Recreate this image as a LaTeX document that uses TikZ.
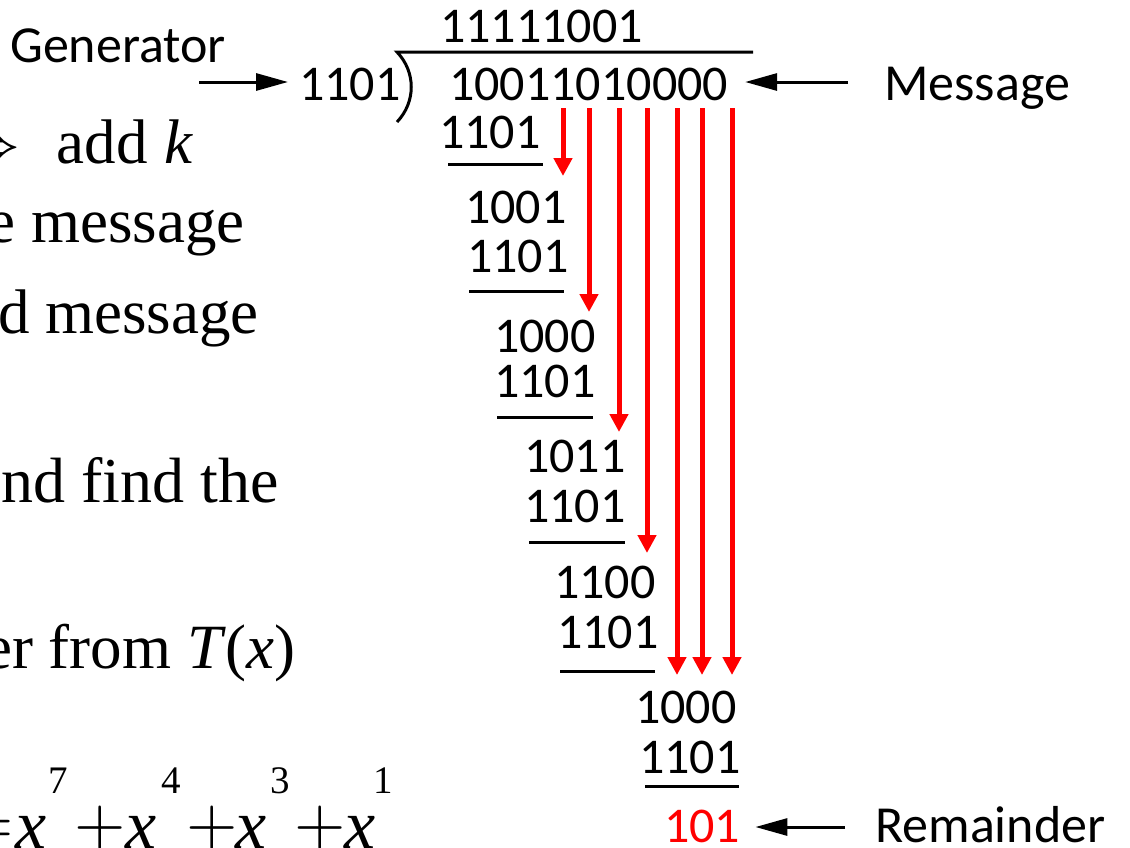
\documentclass[tikz,border=0pt]{standalone}
\usepackage{mathptmx}
\usepackage{fontspec}
\setmainfont{Liberation Serif}
\newfontfamily\calibri{Carlito}
\usetikzlibrary{arrows.meta,positioning}

\begin{document}
\begin{tikzpicture}[
  x=1pt, y=-1pt,
  >={Triangle[length=32pt,width=17pt]},
  num/.style={font=\calibri\fontsize{50}{50}\selectfont, inner sep=0pt, anchor=base west},
  lbl/.style={font=\calibri\fontsize{52}{52}\selectfont, inner sep=0pt, anchor=base west},
  prose/.style={font=\fontsize{63}{70}\selectfont, inner sep=0pt, anchor=base east},
  poly/.style={font=\fontsize{66}{70}\selectfont, inner sep=0pt, anchor=base},
  expo/.style={font=\fontsize{39}{39}\selectfont, inner sep=0pt, anchor=base},
  arr/.style={->, line width=3pt},
  bar/.style={line width=3pt},
  drop/.style={-{Triangle[length=18pt,width=18pt]}, line width=5pt, red},
]
  \useasboundingbox[fill=white] (0,0) rectangle (1130,847);

  % ---------- cropped slide text on the left ----------
  \node[prose] (ln1) at (194,163) {$\Rightarrow$\hspace{36pt}add\hspace{17pt}\textit{k}};
  \node[prose] (ln2) at (245,242) {e message};
  \node[prose] (ln3) at (259,333) {d message};
  \node[prose, font=\fontsize{64}{70}\selectfont] (ln4) at (279,502) {nd find the};
  \node[prose] (ln5) at (296,668) {er from \textit{T}(\textit{x})};

  % polynomial, term by term
  \node[poly] (eq) at (-12,844) {$=$};
  \foreach \i/\xc/\sc/\n in {1/31/58/7, 2/141/171/4, 3/251/280/3, 4/360/383/1} {
    \node[poly, font=\fontsize{70}{70}\selectfont] (px\i) at (\xc,848) {\textit{x}};
    \node[expo] (sup\i) at (\sc,793) {\n};
  }
  \foreach \i/\xc in {1/100, 2/212, 3/320}
    \node[poly] (plus\i) at (\xc,844) {$+$};

  % ---------- division header ----------
  \node[num] (quot)     at (440,42)  {11111001};
  \node[num] (divisor)  at (299,100) {1101};
  \node[num] (dividend) at (449,100) {10011010000};
  \draw[bar] (753,52) -- (397,52) .. controls (416,72) and (416,102) .. (397,122);

  \node[lbl] (gen) at (10,62)  {Generator};
  \node[lbl] (msg) at (884,100) {Message};
  \coordinate (gentail) at (199,82);
  \coordinate (msgtail) at (848,82);
  \draw[arr] (gentail) -- (gentail -| divisor.west) [shorten >=11pt];
  \draw[arr] (msgtail) -- (msgtail -| dividend.east) [shorten >=17pt];

  % ---------- long division steps ----------
  \node[num] (s1) at (439,148) {1101};
  \node[num] (r1) at (465,223) {1001};
  \node[num] (s2) at (467,272) {1101};
  \node[num] (r2) at (494,352) {1000};
  \node[num] (s3) at (494,397) {1101};
  \node[num] (r3) at (524,472) {1011};
  \node[num] (s4) at (524,522) {1101};
  \node[num] (r4) at (554,598) {1100};
  \node[num] (s5) at (557,648) {1101};
  \node[num] (r5) at (635,723) {1000};
  \node[num] (s6) at (639,773) {1101};
  \node[num, red] (rem) at (664,842) {101};

  \foreach \yb/\xa/\xb in {164/448/543, 291/469/564, 417/497/593,
                           542/529/625, 671/560/655, 786/645/739}
    \draw[bar] (\xa,\yb) -- (\xb,\yb);

  % bring-down arrows
  \foreach \i/\cx/\cy in {1/563/176, 2/589/312, 3/619/432, 4/647/553,
                          5/677/675, 6/702/675, 7/732/675} {
    \coordinate (dtop\i) at (\cx,108);
    \coordinate (dtip\i) at (\cx,\cy);
    \draw[drop] (dtop\i) -- (dtip\i);
  }

  % ---------- remainder ----------
  \node[lbl] (remlbl) at (875,842) {Remainder};
  \coordinate (remtail) at (845,827);
  \draw[arr] (remtail) -- (remtail -| rem.east) [shorten >=15pt];
\end{tikzpicture}
\end{document}
